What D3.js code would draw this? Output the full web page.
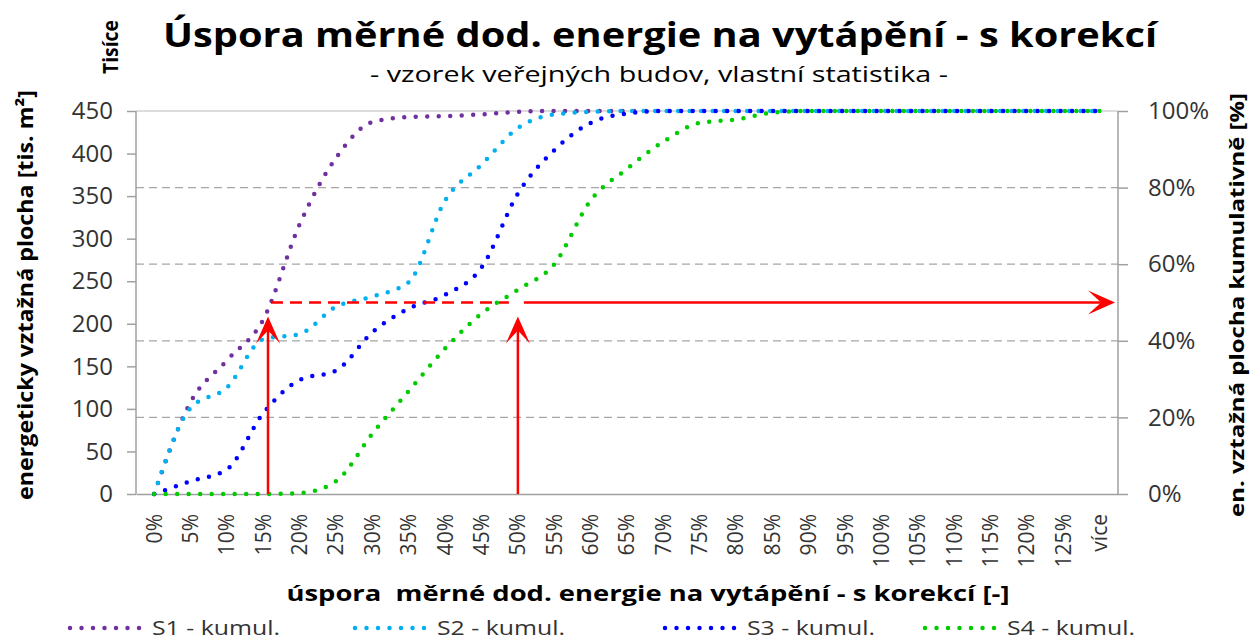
<!DOCTYPE html>
<html>
<head>
<meta charset="utf-8">
<script src="https://cdn.jsdelivr.net/npm/d3@7"></script>
<style>
  body { margin: 0; background: #fff; }
  svg { display: block; font-family: "Open Sans", sans-serif; }
</style>
</head>
<body>
<svg id="chart" width="1250" height="643"></svg>
<script>
// kategorie na ose x
var categories = ["0%","5%","10%","15%","20%","25%","30%","35%","40%","45%","50%","55%","60%","65%",
  "70%","75%","80%","85%","90%","95%","100%","105%","110%","115%","120%","125%","více"];

// kumulativni plocha [tis. m2]
var s1 = [0,108,157,205,317,395,437,443,444,446,449,450,450,450,450,450,450,450,450,450,450,450,450,450,450,450,450];
var s2 = [0,101,125,182,188,220,232,249,345,387,430,446,449,450,450,450,450,450,450,450,450,450,450,450,450,450,450];
var s3 = [0,15,29,95,134,145,190,218,234,266,353,404,436,447,450,450,450,450,450,450,450,450,450,450,450,450,450];
var s4 = [0,0,0,0,1,15,71,121,171,212,240,270,345,382,414,436,440,448,450,450,450,450,450,450,450,450,450];

var seriesNames = ["S1 - kumul.","S2 - kumul.","S3 - kumul.","S4 - kumul."];
var seriesColors = ["#7030a0","#00b0f0","#0000ff","#00cc00"];

var leftTicks = [0,50,100,150,200,250,300,350,400,450];
var rightTicks = [0,0.2,0.4,0.6,0.8,1];

// sipky - index kategorie a uroven (podil)
var arrowIdx = [3.13, 10];
var arrowLevel = 0.5;

var svg = d3.select("#chart");
var pL = 136, pR = 1118, pT = 111, pB = 494;

var x = d3.scaleBand().domain(categories).range([pL, pR]);
var xi = d3.scaleLinear().domain([0, categories.length - 1])
  .range([x(categories[0]) + x.bandwidth() / 2, x(categories[categories.length - 1]) + x.bandwidth() / 2]);
var y = d3.scaleLinear().domain([0, 450]).range([pB, pT]);
var y2 = d3.scaleLinear().domain([0, 1]).range([pB, pT]);

// mrizka (prava osa)
svg.append("g").selectAll("line")
  .data(rightTicks.filter(function(d){ return d > 0 && d < 1; }))
  .enter().append("line")
  .attr("x1", pL).attr("x2", pR)
  .attr("y1", function(d){ return y2(d); }).attr("y2", function(d){ return y2(d); })
  .attr("stroke", "#a6a6a6").attr("stroke-width", 1.2).attr("stroke-dasharray", "8,5");

svg.append("line").attr("x1", pL).attr("x2", pR).attr("y1", pT).attr("y2", pT)
  .attr("stroke", "#d0d0d0").attr("stroke-width", 1.5);

// osy
var axL = svg.append("g").attr("transform", "translate(" + pL + ",0)")
  .call(d3.axisLeft(y).tickValues(leftTicks).tickSize(9).tickPadding(14));
var axR = svg.append("g").attr("transform", "translate(" + pR + ",0)")
  .call(d3.axisRight(y2).tickValues(rightTicks).tickSize(10).tickPadding(20).tickFormat(d3.format(".0%")));
var axB = svg.append("g").attr("transform", "translate(0," + pB + ")")
  .call(d3.axisBottom(x).tickSize(0).tickPadding(0));

[axL, axR, axB].forEach(function(a){
  a.selectAll(".domain").attr("stroke", "#a0a0a0").attr("stroke-width", 1.5);
  a.selectAll(".tick line").attr("stroke", "#a0a0a0").attr("stroke-width", 1.5);
  a.selectAll("text").attr("fill", "#333").style("font-family", "Open Sans");
});
axL.select(".domain").attr("d", "M0," + pT + "V" + pB);
axR.select(".domain").attr("d", "M0," + pT + "V" + pB);
axL.selectAll("text").style("font-size", "24px");
axR.selectAll("text").style("font-size", "24px").attr("text-anchor", "start");
axB.selectAll("text").style("font-size", "21px")
  .attr("text-anchor", "end")
  .attr("transform", "translate(0,20) rotate(-90)")
  .attr("x", 0).attr("y", 0).attr("dy", "0.35em");

// krivky
var line = d3.line()
  .x(function(d, i){ return xi(i); })
  .y(function(d){ return y(d); })
  .curve(d3.curveMonotoneX);

var allSeries = [s1, s2, s3, s4];
svg.append("g").selectAll("path")
  .data(allSeries)
  .enter().append("path")
  .attr("d", line)
  .attr("fill", "none")
  .attr("stroke", function(d, i){ return seriesColors[i]; })
  .attr("stroke-width", 4.5)
  .attr("stroke-linecap", "round")
  .attr("stroke-dasharray", "0,11.5");

// cervene sipky
var red = "#ff0000";
var yl = y2(arrowLevel);
function head(px, py, angle) {
  svg.append("path")
    .attr("d", "M0,0L-27,-12L-14,0L-27,12Z")
    .attr("transform", "translate(" + px + "," + py + ") rotate(" + angle + ")")
    .attr("fill", red);
}
arrowIdx.forEach(function(a){
  var ax = xi(a), tip = yl + 14;
  svg.append("line").attr("x1", ax).attr("x2", ax).attr("y1", pB).attr("y2", tip + 10)
    .attr("stroke", red).attr("stroke-width", 2.5);
  head(ax, tip, -90);
});
svg.append("line")
  .attr("x1", xi(arrowIdx[0]) + 3).attr("x2", xi(arrowIdx[1]) - 9)
  .attr("y1", yl).attr("y2", yl)
  .attr("stroke", red).attr("stroke-width", 2.5).attr("stroke-dasharray", "12,7");
svg.append("line")
  .attr("x1", xi(arrowIdx[1]) + 6).attr("x2", pR - 14)
  .attr("y1", yl).attr("y2", yl)
  .attr("stroke", red).attr("stroke-width", 2.5);
head(pR - 3, yl, 0);

// texty
function label(txt, tx, ty, rot, size, bold, len) {
  var t = svg.append("text")
    .attr("transform", "translate(" + tx + "," + ty + ")" + (rot ? " rotate(" + rot + ")" : ""))
    .attr("text-anchor", "middle")
    .style("font-size", size + "px").style("font-weight", bold ? "bold" : "normal")
    .attr("fill", "#000").text(txt);
  if (len) t.attr("textLength", len).attr("lengthAdjust", "spacingAndGlyphs");
  return t;
}
label("Úspora měrné dod. energie na vytápění - s korekcí", 660, 47, 0, 34, true, 994);
label("- vzorek veřejných budov, vlastní statistika -", 659, 82, 0, 21, false, 578);
label("Tisíce", 118, 47, -90, 22, true, 54);
label("energeticky vztažná plocha [tis. m²]", 33, 295, -90, 21, true, 410);
label("en. vztažná plocha kumulativně [%]", 1244, 305, -90, 20, true, 424);
label("úspora  měrné dod. energie na vytápění - s korekcí [-]", 648, 601, 0, 21, true, 723)
  .style("white-space", "pre");

// legenda
var legendX = [70, 355, 665, 925];
var lg = svg.append("g").selectAll("g").data(seriesNames).enter().append("g")
  .attr("transform", function(d, i){ return "translate(" + legendX[i] + ",628)"; });
lg.append("line").attr("x1", 0).attr("x2", 70).attr("y1", 0).attr("y2", 0)
  .attr("stroke", function(d, i){ return seriesColors[i]; })
  .attr("stroke-width", 4.5).attr("stroke-linecap", "round").attr("stroke-dasharray", "0,11.5");
lg.append("text").attr("x", 82).attr("y", 0).attr("dy", "0.35em").style("font-size", "20px").attr("fill", "#333")
  .attr("textLength", 128).attr("lengthAdjust", "spacingAndGlyphs")
  .text(function(d){ return d; });
</script>
</body>
</html>
